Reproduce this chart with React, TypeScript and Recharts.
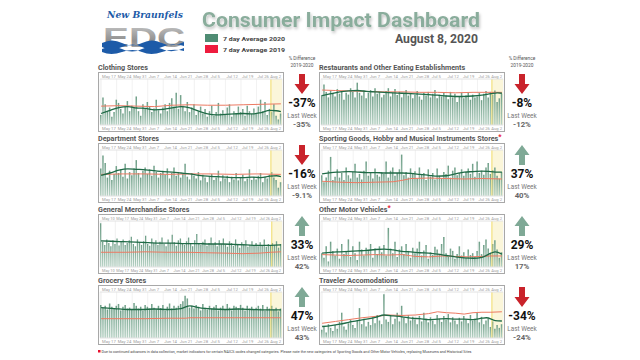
import React from "react";
import { ComposedChart, Bar, Line, XAxis, YAxis, CartesianGrid, ReferenceArea, ReferenceLine } from "recharts";

// daily values, day 0 = May 17 (General Merchandise starts May 10 = day -7)
const WEEK_DAYS = [0, 7, 14, 21, 28, 35, 42, 49, 56, 63, 70, 77];
const WEEK_LABELS = ["May 17", "May 24", "May 31", "Jun 7", "Jun 14", "Jun 21", "Jun 28", "Jul 5", "Jul 12", "Jul 19", "Jul 26", "Aug 2"];
const GM_WEEK_DAYS = [-7, ...WEEK_DAYS];
const GM_WEEK_LABELS = ["May 10", ...WEEK_LABELS];

const CLOTHING_BARS = [
  22, 60, 45, 30, 38, 18, 28, 55, 48, 35, 25, 40, 52, 30, 42, 38, 62, 30, 20, 45, 35,
  50, 40, 28, 36, 55, 32, 25, 38, 45, 30, 48, 58, 40, 70, 35, 65, 42, 30, 50, 28, 38,
  45, 22, 30, 40, 25, 35, 18, 30, 42, 20, 28, 48, 25, 32, 22, 38, 45, 18, 30, 26, 40,
  28, 35, 20, 42, 30, 24, 36, 25, 40, 55, 30, 50, 22, 35, 28, 45, 20, 12, 25,
];
const CLOTHING_2020 = [[0, 25], [4, 32], [8, 38], [12, 40], [16, 37], [20, 36], [24, 33], [28, 34], [32, 37], [36, 40], [40, 37], [44, 30], [48, 24], [52, 22], [56, 23], [60, 24], [64, 25], [68, 24], [72, 27], [76, 32], [79, 31], [81, 29]];
const CLOTHING_2019 = [[0, 41], [8, 42], [16, 41], [24, 40], [32, 43], [40, 44], [48, 43], [56, 43], [64, 44], [72, 45], [81, 46]];

const RESTAURANT_BARS = [
  65, 88, 72, 60, 75, 70, 62, 78, 68, 74, 55, 70, 66, 80, 72, 60, 92, 70, 64, 75, 58,
  70, 76, 62, 80, 68, 72, 60, 66, 74, 80, 62, 70, 78, 65, 72, 60, 68, 76, 64, 70, 58,
  66, 74, 62, 55, 70, 64, 72, 60, 68, 76, 58, 66, 62, 70, 64, 56, 72, 60, 68, 50, 62,
  70, 58, 64, 72, 55, 66, 60, 62, 70, 54, 68, 74, 60, 72, 66, 75, 50, 58, 68,
];
const RESTAURANT_2020 = [[0, 64], [4, 68], [8, 72], [12, 74], [16, 75], [20, 73], [24, 72], [28, 71], [32, 70], [36, 69], [40, 68], [44, 67], [48, 66], [52, 65], [56, 63], [60, 62], [64, 62], [68, 63], [72, 65], [76, 68], [79, 70], [81, 69]];
const RESTAURANT_2019 = [[0, 76], [6, 75], [12, 74], [20, 73], [28, 72], [36, 72], [44, 71], [52, 71], [60, 70], [68, 71], [76, 71], [81, 71]];

const DEPARTMENT_BARS = [
  60, 88, 72, 40, 55, 35, 48, 65, 50, 58, 42, 70, 38, 52, 45, 60, 78, 50, 40, 55, 62,
  48, 58, 44, 66, 52, 40, 50, 55, 46, 60, 38, 50, 62, 44, 52, 40, 48, 70, 42, 36, 50,
  44, 38, 52, 34, 46, 40, 30, 42, 48, 35, 40, 55, 32, 45, 38, 44, 30, 42, 36, 50, 34,
  40, 46, 32, 38, 58, 35, 42, 36, 44, 50, 30, 42, 38, 46, 52, 40, 35, 18, 30,
];
const DEPARTMENT_2020 = [[0, 45], [4, 50], [8, 56], [12, 59], [16, 58], [20, 57], [24, 55], [28, 53], [32, 52], [36, 50], [40, 48], [44, 45], [48, 43], [52, 42], [56, 41], [60, 40], [64, 40], [68, 41], [72, 40], [76, 43], [79, 44], [81, 42]];
const DEPARTMENT_2019 = [[0, 47], [10, 48], [20, 48], [30, 47], [40, 48], [50, 48], [60, 47], [70, 48], [81, 47]];

const SPORTING_BARS = [
  45, 30, 40, 55, 85, 35, 42, 58, 40, 50, 35, 62, 45, 38, 52, 70, 40, 48, 36, 55, 75,
  44, 50, 38, 60, 46, 42, 52, 48, 75, 40, 55, 62, 44, 50, 58, 90, 45, 52, 40, 60, 48,
  54, 38, 62, 46, 50, 35, 58, 42, 50, 36, 60, 44, 38, 52, 48, 66, 40, 55, 62, 45, 50,
  58, 44, 52, 60, 48, 70, 42, 75, 50, 55, 46, 62, 72, 48, 56, 62, 44, 38, 52,
];
const SPORTING_2020 = [[0, 48], [4, 51], [8, 52], [12, 53], [16, 52], [20, 51], [24, 51], [28, 50], [32, 50], [36, 50], [40, 49], [44, 47], [48, 45], [52, 43], [56, 44], [60, 48], [64, 52], [68, 53], [72, 54], [76, 53], [79, 52], [81, 52]];
const SPORTING_2019 = [[0, 32], [8, 30], [16, 29], [24, 30], [32, 31], [36, 34], [40, 38], [48, 39], [56, 38], [64, 37], [72, 38], [81, 37]];

const GENERAL_BARS = [
  95, 55, 48, 60, 52, 45, 58,
  50, 62, 47, 55, 60, 48, 52, 58, 66, 50, 45, 60, 54, 48, 56, 68, 50, 46, 62, 52, 58,
  48, 55, 64, 50, 45, 60, 52, 70, 54, 46, 58, 62, 50, 48, 56, 64, 50, 45, 58, 72, 52,
  48, 55, 60, 46, 52, 64, 50, 54, 45, 58, 50, 62, 48, 44, 56, 52, 46, 60, 48, 42, 54,
  50, 58, 44, 48, 56, 46, 52, 45, 54, 48, 60, 44, 50, 46, 52, 48, 56, 42, 50,
];
const GENERAL_2020 = [[-7, 57], [-2, 56], [4, 55], [10, 54], [16, 53], [22, 52], [28, 52], [34, 51], [40, 51], [46, 50], [52, 50], [58, 49], [64, 48], [70, 47], [76, 47], [81, 48]];
const GENERAL_2019 = [[-7, 32], [5, 32], [15, 33], [25, 32], [35, 32], [45, 31], [55, 30], [62, 29], [70, 30], [76, 32], [81, 33]];

const MOTOR_BARS = [
  30, 20, 45, 12, 55, 35, 25, 40, 18, 50, 28, 35, 60, 22, 45, 30, 15, 55, 38, 25, 42,
  35, 50, 20, 40, 28, 45, 32, 48, 25, 85, 40, 30, 55, 22, 38, 45, 28, 50, 35, 20, 42,
  30, 40, 55, 25, 36, 48, 18, 32, 26, 44, 38, 28, 50, 65, 30, 22, 40, 35, 18, 28, 45,
  25, 32, 20, 38, 26, 30, 22, 35, 55, 28, 48, 60, 40, 30, 50, 58, 38, 20, 32,
];
const MOTOR_2020 = [[0, 30], [4, 32], [8, 33], [12, 34], [16, 35], [20, 36], [24, 38], [28, 39], [32, 37], [36, 34], [40, 33], [44, 31], [48, 30], [52, 28], [56, 25], [60, 22], [64, 20], [68, 19], [72, 21], [76, 30], [78, 33], [81, 28]];
const MOTOR_2019 = [[0, 27], [6, 26], [12, 25], [18, 26], [24, 27], [30, 26], [36, 27], [42, 23], [48, 22], [54, 24], [60, 23], [66, 22], [72, 23], [76, 24], [81, 24]];

const GROCERY_BARS = [
  72, 66, 70, 62, 75, 68, 64, 70, 74, 60, 68, 72, 64, 66, 62, 76, 70, 64, 68, 60, 72,
  68, 64, 74, 66, 62, 70, 65, 72, 60, 68, 75, 64, 70, 66, 70, 74, 80, 92, 86, 66, 70,
  64, 72, 68, 60, 74, 66, 62, 70, 64, 68, 72, 60, 66, 70, 62, 74, 66, 60, 70, 68, 64,
  72, 66, 60, 70, 64, 68, 62, 66, 70, 64, 72, 60, 68, 64, 70, 62, 66, 58, 64,
];
const GROCERY_2020 = [[0, 66], [6, 64], [12, 62], [18, 62], [24, 63], [30, 62], [36, 64], [40, 70], [44, 66], [50, 63], [56, 62], [62, 63], [68, 62], [74, 61], [81, 61]];
const GROCERY_2019 = [[0, 42], [10, 42], [20, 42], [30, 43], [38, 43], [40, 44], [50, 44], [60, 44], [70, 44], [81, 44]];

const TRAVEL_BARS = [
  18, 25, 12, 30, 22, 15, 28, 20, 35, 55, 25, 18, 32, 40, 28, 22, 38, 65, 30, 42, 25,
  35, 28, 45, 32, 50, 38, 30, 95, 40, 35, 48, 30, 42, 55, 36, 70, 44, 32, 50, 38, 46,
  40, 30, 48, 36, 55, 42, 34, 45, 38, 30, 50, 42, 35, 48, 40, 52, 34, 45, 38, 30, 44,
  36, 48, 40, 32, 50, 38, 42, 55, 34, 46, 30, 38, 42, 24, 36, 20, 28, 22, 30,
];
const TRAVEL_2020 = [[0, 25], [4, 27], [8, 30], [12, 34], [16, 38], [20, 41], [24, 45], [28, 50], [32, 48], [36, 46], [40, 43], [44, 42], [48, 40], [52, 41], [56, 42], [60, 41], [64, 41], [68, 40], [72, 43], [74, 44], [78, 38], [81, 37]];
const TRAVEL_2019 = [[0, 32], [6, 36], [12, 40], [18, 44], [24, 47], [30, 50], [36, 49], [42, 50], [48, 53], [52, 57], [56, 55], [60, 54], [64, 52], [68, 55], [72, 56], [76, 56], [81, 57]];

const PANELS = [
  { title: "Clothing Stores", bars: CLOTHING_BARS, start: 0, l20: CLOTHING_2020, l19: CLOTHING_2019, pct: "-37%", last: "-35%", up: false, col: 0, row: 0 },
  { title: "Restaurants and Other Eating Establishments", bars: RESTAURANT_BARS, start: 0, l20: RESTAURANT_2020, l19: RESTAURANT_2019, pct: "-8%", last: "-12%", up: false, col: 1, row: 0 },
  { title: "Department Stores", bars: DEPARTMENT_BARS, start: 0, l20: DEPARTMENT_2020, l19: DEPARTMENT_2019, pct: "-16%", last: "-9.1%", up: false, col: 0, row: 1 },
  { title: "Sporting Goods, Hobby and Musical Instruments Stores", star: true, bars: SPORTING_BARS, start: 0, l20: SPORTING_2020, l19: SPORTING_2019, pct: "37%", last: "40%", up: true, col: 1, row: 1 },
  { title: "General Merchandise Stores", bars: GENERAL_BARS, start: -7, l20: GENERAL_2020, l19: GENERAL_2019, pct: "33%", last: "42%", up: true, col: 0, row: 2 },
  { title: "Other Motor Vehicles", star: true, bars: MOTOR_BARS, start: 0, l20: MOTOR_2020, l19: MOTOR_2019, pct: "29%", last: "17%", up: true, col: 1, row: 2 },
  { title: "Grocery Stores", bars: GROCERY_BARS, start: 0, l20: GROCERY_2020, l19: GROCERY_2019, pct: "47%", last: "43%", up: true, col: 0, row: 3 },
  { title: "Traveler Accomodations", bars: TRAVEL_BARS, start: 0, l20: TRAVEL_2020, l19: TRAVEL_2019, pct: "-34%", last: "-24%", up: false, col: 1, row: 3 },
];

const FONT = "Roboto, 'Noto Sans', sans-serif";
const BOX_X = [98, 319];
const STAT_X = [302, 522];
const BOX_Y = [72, 143, 214, 285];

const DateTick = (props: any) => {
  const { x, y, payload, top, labels, days, size } = props;
  const i = days.indexOf(payload.value);
  const last = i === days.length - 1;
  return (
    <text x={last ? 182 : x + 1} y={top ? y - 1.2 : y + 4.6} fontSize={size} fill="#9c9c9c" fontFamily={FONT}
      textAnchor={last ? "end" : "start"}>
      {labels[i]}
    </text>
  );
};

function Panel({ p }: { p: any }) {
  const data = p.bars.map((v: number, i: number) => ({ day: p.start + i, v }));
  const g20 = p.l20.map(([day, v]: number[]) => ({ day, v }));
  const g19 = p.l19.map(([day, v]: number[]) => ({ day, v }));
  const gm = p.start < 0;
  const days = gm ? GM_WEEK_DAYS : WEEK_DAYS;
  const labels = gm ? GM_WEEK_LABELS : WEEK_LABELS;
  const size = gm ? 3.9 : 4.2;
  const domain = [p.start - 0.5, 81.5];
  const barW = gm ? 1.3 : 1.5;
  return (
    <div style={{ position: "absolute", left: BOX_X[p.col], top: BOX_Y[p.row], width: 184, height: 58, border: "1px solid #a8a8a8", background: "#fff" }}>
      <ComposedChart width={184} height={58} data={data} margin={{ top: 0, right: 1, bottom: 0, left: 1 }}>
        <defs>
          <linearGradient id="barFill" x1="0" y1="0" x2="0" y2="1">
            <stop offset="0%" stopColor="#6f9f88" />
            <stop offset="100%" stopColor="#b9d3c6" />
          </linearGradient>
        </defs>
        <CartesianGrid xAxisId="b" yAxisId="y" horizontal={false} stroke="#e8e8e8" strokeWidth={0.6} />
        <XAxis xAxisId="t" orientation="top" type="number" dataKey="day" domain={domain} ticks={days} interval={0}
          height={6} tickSize={0} tickMargin={0} tickLine={false} axisLine={{ stroke: "#e2e2e2" }}
          tick={(t: any) => <DateTick {...t} top labels={labels} days={days} size={size} />} />
        <XAxis xAxisId="b" orientation="bottom" type="number" dataKey="day" domain={domain} ticks={days} interval={0}
          height={6} tickSize={0} tickMargin={0} tickLine={false} axisLine={{ stroke: "#e2e2e2" }}
          tick={(t: any) => <DateTick {...t} labels={labels} days={days} size={size} />} />
        <YAxis yAxisId="y" hide domain={[0, 100]} />
        <ReferenceArea xAxisId="b" yAxisId="y" x1={76.5} x2={81.5} y1={0} y2={100} fill="#fbf5d6" fillOpacity={0.9} stroke="none" />
        <Bar xAxisId="b" yAxisId="y" dataKey="v" fill="url(#barFill)" barSize={barW} isAnimationActive={false} />
        <ReferenceLine xAxisId="b" yAxisId="y" x={76.5} stroke="#f1dc6a" strokeWidth={1} />
        <Line xAxisId="t" yAxisId="y" data={g19} dataKey="v" type="linear" stroke="#ec7a63" strokeWidth={1} dot={false} isAnimationActive={false} />
        <Line xAxisId="b" yAxisId="y" data={g20} dataKey="v" type="monotone" stroke="#1f6a46" strokeWidth={1.3} dot={false} isAnimationActive={false} />
      </ComposedChart>
    </div>
  );
}

function Arrow({ cx, y, up }: { cx: number; y: number; up: boolean }) {
  const pts = up
    ? [[cx, y], [cx + 7.5, y + 10], [cx + 3, y + 10], [cx + 3, y + 20], [cx - 3, y + 20], [cx - 3, y + 10], [cx - 7.5, y + 10]]
    : [[cx - 3, y], [cx + 3, y], [cx + 3, y + 10], [cx + 7.5, y + 10], [cx, y + 20], [cx - 7.5, y + 10], [cx - 3, y + 10]];
  return <polygon points={pts.map((q) => q.join(",")).join(" ")} fill={up ? "#7fa996" : "#c9232b"} />;
}

function Overlay() {
  return (
    <svg width={640} height={360} style={{ position: "absolute", left: 0, top: 0 }} fontFamily={FONT}>
      <defs>
        <linearGradient id="edcGray" x1="0" y1="0" x2="0" y2="1">
          <stop offset="0%" stopColor="#c9c9c9" />
          <stop offset="60%" stopColor="#8e8e8e" />
          <stop offset="100%" stopColor="#b5b5b5" />
        </linearGradient>
        <filter id="shadow" x="-5%" y="-20%" width="110%" height="160%">
          <feDropShadow dx="1" dy="2" stdDeviation="1.5" floodColor="#000" floodOpacity="0.25" />
        </filter>
      </defs>
      {/* logo */}
      <text x={145} y={18} textAnchor="middle" fontFamily="'DejaVu Serif', serif" fontStyle="italic" fontWeight={700} fontSize={10}
        fill="#1d5ba8" textLength={76} lengthAdjust="spacingAndGlyphs">New Braunfels</text>
      <text x={144} y={47} textAnchor="middle" fontFamily="'Liberation Sans', sans-serif" fontWeight={700} fontSize={27}
        fill="url(#edcGray)" textLength={82} lengthAdjust="spacingAndGlyphs">EDC</text>
      <path d="M102 43 Q112 38 122 43 T142 43 T162 43 T184 42 L184 46 Q173 42 162 47 T142 47 T122 47 T102 47 Z" fill="#1d5ba8" />
      <path d="M102 49 Q112 44 122 49 T142 49 T162 49 T184 48 L184 51 Q173 48 162 52 T142 52 T122 52 T102 52 Z" fill="#1d5ba8" />

      {/* title & legend */}
      <text x={202} y={27} fontSize={20} fontWeight={700} fill="#8aad9c" textLength={278} lengthAdjust="spacingAndGlyphs" filter="url(#shadow)">
        Consumer Impact Dashboard
      </text>
      <rect x={205} y={34} width={13} height={8} fill="#4f8c73" />
      <rect x={205} y={45} width={13} height={8} fill="#ee1c3e" />
      <text x={223} y={40.5} fontSize={6} fontWeight={700} fill="#444" textLength={62} lengthAdjust="spacingAndGlyphs">7 day Average 2020</text>
      <text x={223} y={51.5} fontSize={6} fontWeight={700} fill="#444" textLength={62} lengthAdjust="spacingAndGlyphs">7 day Average 2019</text>
      <text x={395} y={43} fontSize={12.5} fontWeight={700} fill="#555" textLength={83} lengthAdjust="spacingAndGlyphs">August 8, 2020</text>

      {STAT_X.map((cx) => (
        <g key={cx}>
          <text x={cx} y={60} textAnchor="middle" fontSize={4.8} fill="#555">% Difference</text>
          <text x={cx} y={67} textAnchor="middle" fontSize={4.8} fill="#555">2019-2020</text>
        </g>
      ))}

      {PANELS.map((p) => {
        const x = BOX_X[p.col];
        const t = BOX_Y[p.row];
        const cx = STAT_X[p.col];
        return (
          <g key={p.title}>
            <text x={x} y={t - 2.5} fontSize={7.2} fontWeight={700} fill="#555">
              {p.title}
              {p.star ? <tspan fill="#e8102e" dy={-2}>*</tspan> : null}
            </text>
            <Arrow cx={cx} y={t + 2} up={p.up} />
            <text x={cx} y={t + 35} textAnchor="middle" fontSize={12} fontWeight={700} fill="#111">{p.pct}</text>
            <text x={cx} y={t + 46} textAnchor="middle" fontSize={6.4} fill="#777">Last Week</text>
            <text x={cx} y={t + 55} textAnchor="middle" fontSize={7.8} fontWeight={700} fill="#666">{p.last}</text>
          </g>
        );
      })}

      <rect x={98} y={350} width={2.5} height={2.5} fill="#e8102e" />
      <text x={101.5} y={352.8} fontSize={3.8} fill="#444" textLength={370} lengthAdjust="spacingAndGlyphs">
        Due to continued advances in data collection, market indicators for certain NAICS codes changed categories. Please note the new categories of Sporting Goods and Other Motor Vehicles, replacing Museums and Historical Sites
      </text>
    </svg>
  );
}

export default function App() {
  return (
    <div style={{ position: "absolute", left: 0, top: 0, width: 640, height: 360, background: "#fff", overflow: "hidden" }}>
      <Overlay />
      {PANELS.map((p) => (
        <Panel key={p.title} p={p} />
      ))}
    </div>
  );
}
